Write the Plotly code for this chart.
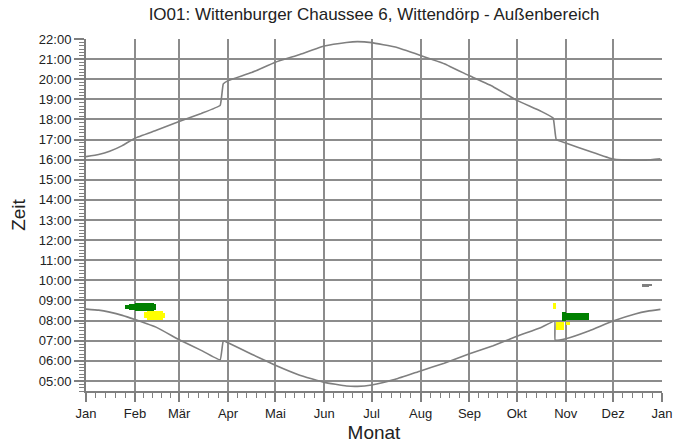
import plotly.graph_objects as go

# Day of year (0 = 1 Jan) and local clock time in decimal hours
sunset_day = [0, 8, 15, 23, 31, 45, 59, 73, 85, 87, 90, 105, 120, 135, 151, 165, 172, 181,
              196, 212, 227, 243, 258, 273, 288, 296, 298, 304, 319, 334, 348, 355, 364]
sunset_time = [16.15, 16.26, 16.42, 16.70, 17.07, 17.47, 17.90, 18.30, 18.70, 19.77, 19.93,
               20.33, 20.85, 21.22, 21.65, 21.83, 21.87, 21.82, 21.60, 21.18, 20.77, 20.17,
               19.63, 18.95, 18.42, 18.07, 17.00, 16.83, 16.42, 16.03, 15.97, 15.98, 16.05]

sunrise_day = [0, 8, 15, 23, 31, 45, 59, 73, 85, 87, 90, 105, 120, 135, 151, 165, 172, 181,
               196, 212, 227, 243, 258, 273, 288, 297, 297.3, 304, 319, 334, 348, 356, 364]
sunrise_time = [8.57, 8.52, 8.42, 8.26, 8.05, 7.65, 7.05, 6.52, 6.05, 7.00, 6.90, 6.33,
                5.78, 5.30, 4.93, 4.75, 4.73, 4.80, 5.08, 5.50, 5.88, 6.35, 6.75, 7.22,
                7.65, 7.97, 7.03, 7.10, 7.50, 7.98, 8.33, 8.47, 8.56]

# Shadow periods: day from, day to, time from, time to
green_from = [25, 27, 31, 43, 301.5, 304]
green_to = [27, 31, 43, 44.5, 304, 318.5]
green_t0 = [8.58, 8.53, 8.48, 8.52, 7.96, 8.01]
green_t1 = [8.80, 8.83, 8.88, 8.85, 8.43, 8.36]

yellow_from = [37, 38.5, 48.5, 295.8, 297.8, 304]
yellow_to = [38.5, 48.5, 50, 297.8, 303, 306.6]
yellow_t0 = [8.12, 8.05, 8.12, 8.60, 7.55, 7.76]
yellow_t1 = [8.42, 8.48, 8.40, 8.87, 7.93, 7.93]

grey_from = [352.3, 356.5]
grey_to = [356.5, 358.5]
grey_t0 = [9.67, 9.76]
grey_t1 = [9.83, 9.84]

month_starts = [0, 31, 59, 90, 120, 151, 181, 212, 243, 273, 304, 334, 365]
month_labels = ["Jan", "Feb", "Mär", "Apr", "Mai", "Jun", "Jul", "Aug", "Sep",
                "Okt", "Nov", "Dez", "Jan"]
hour_ticks = list(range(5, 23))
hour_labels = [f"{h:02d}:00" for h in hour_ticks]

GRID = "#8c8c8c"
LINE = "#7f7f7f"
FONT = "Liberation Sans, Arial, sans-serif"
X_RANGE = [0, 365]
Y_RANGE = [4.5, 22]

fig = go.Figure()


def add_periods(d0, d1, t0, t1, color):
    fig.add_trace(go.Bar(
        x=[(a + b) / 2 for a, b in zip(d0, d1)],
        width=[b - a for a, b in zip(d0, d1)],
        base=t0,
        y=[b - a for a, b in zip(t0, t1)],
        marker=dict(color=color, line=dict(width=0)),
        showlegend=False, hoverinfo="skip",
    ))


fig.add_trace(go.Scatter(x=sunset_day, y=sunset_time, mode="lines",
                         line=dict(color=LINE, width=1.6, shape="spline", smoothing=0.3),
                         showlegend=False))
fig.add_trace(go.Scatter(x=sunrise_day, y=sunrise_time, mode="lines",
                         line=dict(color=LINE, width=1.6, shape="spline", smoothing=0.3),
                         showlegend=False))
add_periods(green_from, green_to, green_t0, green_t1, "#008000")
add_periods(yellow_from, yellow_to, yellow_t0, yellow_t1, "#ffff00")
add_periods(grey_from, grey_to, grey_t0, grey_t1, "#808080")

# empty trace that carries the overlay axes used for the grid
fig.add_trace(go.Scatter(x=[None], y=[None], xaxis="x2", yaxis="y2",
                         showlegend=False, hoverinfo="skip"))

# minor ticks: each month split into five parts
minor_x = []
for a, b in zip(month_starts[:-1], month_starts[1:]):
    minor_x += [a + (b - a) * k / 5 for k in range(1, 5)]

fig.update_layout(
    width=674, height=446,
    margin=dict(l=86, r=12, t=39, b=55, autoexpand=False),
    paper_bgcolor="white", plot_bgcolor="white",
    barmode="overlay", bargap=0,
    font=dict(family=FONT, color="#222222", size=13),
    title=dict(text="IO01: Wittenburger Chaussee 6, Wittendörp - Außenbereich",
               x=0.5, xref="paper", y=1 - 14 / 446, yref="container",
               xanchor="center", yanchor="middle",
               font=dict(family=FONT, size=17, color="#222222")),
    xaxis=dict(
        range=X_RANGE, tickmode="array", tickvals=month_starts, ticktext=month_labels,
        showgrid=False, automargin=False,
        showline=True, linecolor=LINE, linewidth=2,
        ticks="outside", ticklen=9, tickwidth=1.5, tickcolor=LINE,
        minor=dict(tickmode="array", tickvals=minor_x, ticks="outside", ticklen=5,
                   tickwidth=1.2, tickcolor=LINE, showgrid=False),
        title=dict(text="Monat", font=dict(size=19), standoff=6),
        zeroline=False, fixedrange=True,
    ),
    yaxis=dict(
        range=Y_RANGE, tickmode="array", tickvals=hour_ticks, ticktext=hour_labels,
        showgrid=False, automargin=False,
        showline=True, linecolor=LINE, linewidth=2,
        ticks="outside", ticklen=10, tickwidth=1.5, tickcolor=LINE,
        minor=dict(dtick=1 / 6, tick0=0, ticks="outside", ticklen=5,
                   tickwidth=1, tickcolor=LINE, showgrid=False),
        title=dict(text="Zeit", font=dict(size=19), standoff=8),
        zeroline=False, fixedrange=True,
    ),
    # grid: month lines inside the plot, hour lines below the top edge
    xaxis2=dict(
        overlaying="x", anchor="y", range=X_RANGE, tickmode="array",
        tickvals=month_starts[1:-1], showticklabels=False, ticks="",
        showgrid=True, gridcolor=GRID, gridwidth=2, showline=False,
        zeroline=False, fixedrange=True, automargin=False,
    ),
    yaxis2=dict(
        overlaying="y", anchor="x", range=Y_RANGE, tickmode="array",
        tickvals=hour_ticks[:-1], showticklabels=False, ticks="",
        showgrid=True, gridcolor=GRID, gridwidth=2, showline=False,
        zeroline=False, fixedrange=True, automargin=False,
    ),
)

fig.write_html("out.html")
